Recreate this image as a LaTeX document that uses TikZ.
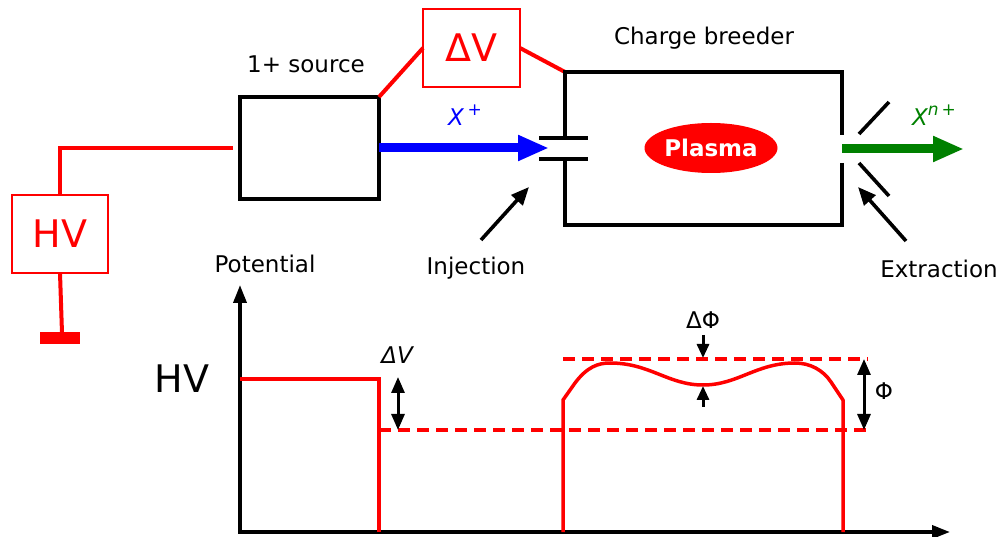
\documentclass[tikz,border=0pt]{standalone}
\usepackage{fontspec}
\setmainfont{DejaVu Sans}
\usetikzlibrary{arrows.meta,shapes.geometric}
\begin{document}
\begin{tikzpicture}[x=1pt,y=-1pt,
  blk/.style={line width=3.6pt,black},
  rd/.style={line width=4pt,red},
  rdash/.style={line width=3.5pt,red,dash pattern=on 12pt off 7pt},
  lbl/.style={font=\fontsize{23}{27}\selectfont,inner sep=0pt},
  redbox/.style={draw=red,line width=1.6pt,text=red,font=\fontsize{38}{44}\selectfont,inner sep=0pt,outer sep=0pt},
  tip/.style={-{Triangle[length=18pt,width=15pt]}},
  dtip/.style={{Triangle[length=16pt,width=13pt]}-{Triangle[length=16pt,width=13pt]}},
  beam/.style={line width=9pt,-{Triangle[length=31pt,width=24pt]}}]
\useasboundingbox (0,0) rectangle (1002,537);

% ---------- top: apparatus ----------
\node[redbox,minimum width=96pt,minimum height=78pt] (hv) at (60,234) {HV};
\node[redbox,minimum width=97pt,minimum height=78pt] (dv) at (471.5,48) {ΔV};
\node[draw,line width=3.6pt,minimum width=139pt,minimum height=102pt,inner sep=0pt,outer sep=0pt] (src) at (309.5,148) {};
\node[lbl] (srclbl) at (306,64) {1+ source};
\node[lbl] (cblbl) at (704,38) {Charge breeder};

\coordinate (cbTL) at (565,72);
\coordinate (cbTR) at (842,72);
\coordinate (cbBR) at (842,225);
\coordinate (cbBL) at (565,225);
\coordinate (hvcorner) at (62,148);
\coordinate (hvend) at (233,148);
\coordinate (gnd) at (62,333);

% HV wiring
\draw[rd] (hv.north) -- (hv.north |- hvcorner) -- (hvend);
\draw[rd] (hv.south) -- (gnd);
\fill[red] (40,332) rectangle (80,344);

% Delta V wiring
\draw[rd] (src.north east) -- (dv.west);
\draw[rd] (dv.east) -- (cbTL);

% charge breeder box
\draw[blk] (565,138) -- (cbTL) -- (cbTR) -- (842,135);
\draw[blk] (842,163) -- (cbBR) -- (cbBL) -- (565,159);
\draw[blk] (539,138) -- (588,138);
\draw[blk] (539,159) -- (588,159);
\draw[blk] (859,134) -- (889,102);
\draw[blk] (859,163) -- (889,196);

\node[ellipse,fill=red,minimum width=133pt,minimum height=50pt,inner sep=0pt,
      text=white,font=\fontsize{23}{27}\selectfont\bfseries] (plasma) at (711,148) {Plasma};

% beams
\coordinate (injtip) at (549,148);
\coordinate (exstart) at (842,149);
\coordinate (extip) at (964,149);
\draw[blue,beam] (src.east |- injtip) -- (injtip);
\draw[green!50!black,beam] (exstart) -- (extip);
\node[lbl,text=blue] (xp) at (465,115) {\itshape X\,\raisebox{0.45em}{\fontsize{17}{17}\selectfont +}};
\node[lbl,text=green!50!black] (xnp) at (934,115) {\itshape X\raisebox{0.45em}{\fontsize{17}{17}\selectfont n\,+}};

% injection / extraction labels and arrows
\node[lbl] (inj) at (476,268) {Injection};
\node[lbl] (ext) at (939,269) {Extraction};
\coordinate (injA) at (481,240);
\coordinate (injB) at (529,187);
\coordinate (extA) at (906,241);
\coordinate (extB) at (858,187);
\draw[blk,tip] (injA) -- (injB);
\draw[blk,tip] (extA) -- (extB);

% ---------- bottom: potential ----------
\node[lbl] (pot) at (265,264) {Potential};
\node[inner sep=0pt,font=\fontsize{38}{44}\selectfont] (hvlbl) at (182,379) {HV};
\coordinate (ytop) at (240,285);
\coordinate (origin) at (240,532);
\coordinate (xend) at (950,532);
\draw[blk,{Triangle[length=18pt,width=13pt]}-{Triangle[length=18pt,width=13pt]}] (ytop) -- (origin) -- (xend);

\draw[line width=3.5pt,red] (240,379) -- (379,379) -- (379,532);
\draw[rdash] (379,430) -- (868,430);
\draw[rdash] (563,359) -- (868,359);
\draw[line width=3.5pt,red,line join=round]
  (563,532) -- (563,400) -- (575,383)
  .. controls (587,367) and (598,363) .. (610,363)
  .. controls (650,363) and (668,385) .. (703,385)
  .. controls (738,385) and (756,363) .. (795,363)
  .. controls (810,363) and (823,370) .. (831,382)
  -- (843,400) -- (843,532);

% Delta V marker
\node[lbl] (dvlbl) at (397,355) {\itshape ΔV};
\draw[line width=3pt,dtip] (398,377) -- (398,430);

% Delta Phi marker
\node[lbl] (dphi) at (703,320) {ΔΦ};
\draw[line width=3pt,-{Triangle[length=14pt,width=12pt]}] (703,335) -- (703,358);
\draw[line width=3pt,-{Triangle[length=14pt,width=12pt]}] (703,407) -- (703,386);

% Phi marker
\node[lbl] (phi) at (884,391) {Φ};
\draw[line width=3pt,dtip] (864,359) -- (864,430);
\end{tikzpicture}
\end{document}
